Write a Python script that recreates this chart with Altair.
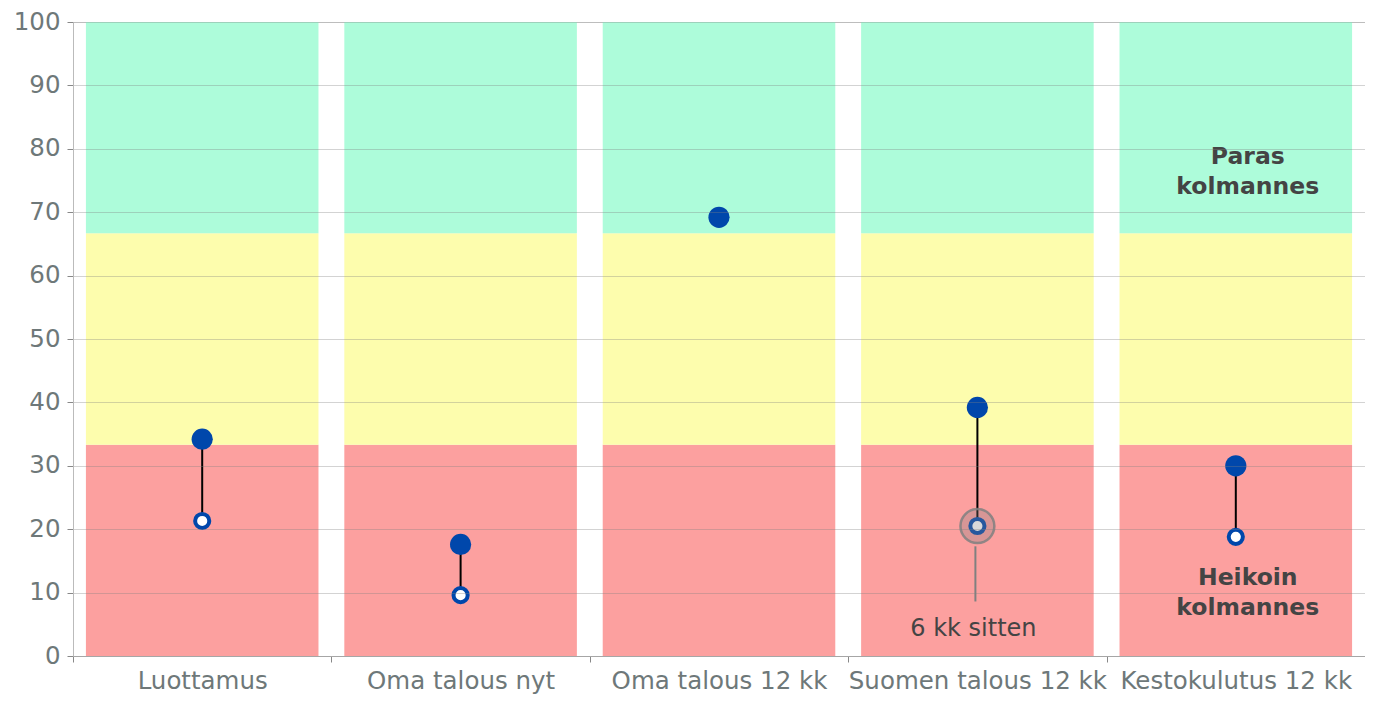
import altair as alt
import pandas as pd

categories = ["Luottamus", "Oma talous nyt", "Oma talous 12 kk", "Suomen talous 12 kk", "Kestokulutus 12 kk"]
current = [34.2, 17.6, 69.2, 39.2, 30.0]
previous = [21.3, 9.6, 69.2, 20.5, 18.8]

band_names = ["Heikoin", "Keski", "Paras"]
band_lo = [0, 33.33, 66.67]
band_hi = [33.33, 66.67, 100]
band_colors = ["#FCA09F", "#FDFDAD", "#ADFCDA"]

annot_cat = "Suomen talous 12 kk"
annot_value = 20.5
annot_line = [17.3, 8.6]
annot_text = "6 kk sitten"
annot_text_y = 4.3

label_cat = "Kestokulutus 12 kk"
label_lines = ["Paras", "kolmannes", "Heikoin", "kolmannes"]
label_y = [78.7, 74.0, 12.3, 7.5]

FONT = "DejaVu Sans"
BLUE = "#0047AB"
AXIS_GRAY = "#6e7879"

bands = pd.DataFrame([
    {"cat": c, "band": n, "lo": lo, "hi": hi}
    for c in categories
    for n, lo, hi in zip(band_names, band_lo, band_hi)
])
pts = pd.DataFrame({"cat": categories, "current": current, "previous": previous})
ann = pd.DataFrame({"cat": [annot_cat], "v": [annot_value], "l1": [annot_line[0]],
                    "l2": [annot_line[1]], "t": [annot_text], "ty": [annot_text_y]})
lbl = pd.DataFrame({"cat": [label_cat] * len(label_lines), "t": label_lines, "y": label_y})

x_enc = alt.X(
    "cat:N", sort=categories,
    scale=alt.Scale(paddingInner=0, paddingOuter=0),
    axis=alt.Axis(title=None, labelAngle=0, tickBand="extent", grid=False,
                  labelFontSize=24.5, labelColor=AXIS_GRAY, labelFont=FONT, labelLimit=0,
                  domainColor="#bbbbbb", tickColor="#888888", tickSize=6,
                  labelPadding=7),
)
y_scale = alt.Scale(domain=[0, 100], nice=False)
y_axis = alt.Axis(title=None, values=list(range(0, 101, 10)), labelFontSize=24.5,
                  labelColor=AXIS_GRAY, labelFont=FONT, domainColor="#bbbbbb",
                  tickColor="#888888", tickSize=6, labelPadding=7,
                  grid=True, gridColor="#808080", gridOpacity=0.35, zindex=1)

band_layer = alt.Chart(bands).mark_bar(width=alt.RelativeBandSize(0.9)).encode(
    x=x_enc,
    y=alt.Y("lo:Q", scale=y_scale, axis=y_axis),
    y2="hi:Q",
    fill=alt.Fill("band:N", scale=alt.Scale(domain=band_names, range=band_colors), legend=None),
)

rule_layer = alt.Chart(pts).mark_rule(color="black", strokeWidth=2).encode(
    x=x_enc, y=alt.Y("current:Q", scale=y_scale), y2="previous:Q")

prev_layer = alt.Chart(pts).mark_point(filled=False, fill="white", fillOpacity=1,
                                       stroke=BLUE, strokeWidth=4, size=200, opacity=1).encode(
    x=x_enc, y=alt.Y("previous:Q", scale=y_scale))

cur_layer = alt.Chart(pts).mark_circle(color=BLUE, size=450, opacity=1).encode(
    x=x_enc, y=alt.Y("current:Q", scale=y_scale))

ann_circle = alt.Chart(ann).mark_point(filled=False, fill="#808080", fillOpacity=0.3,
                                       stroke="#808080", strokeWidth=2.5, strokeOpacity=0.85,
                                       size=1150).encode(
    x=x_enc, y=alt.Y("v:Q", scale=y_scale))

ann_line = alt.Chart(ann).mark_rule(color="#808080", strokeWidth=2, xOffset=-2).encode(
    x=x_enc, y=alt.Y("l1:Q", scale=y_scale), y2="l2:Q")

ann_text = alt.Chart(ann).mark_text(font=FONT, fontSize=24, color="#444444", dx=-4,
                                    baseline="middle").encode(
    x=x_enc, y=alt.Y("ty:Q", scale=y_scale), text="t:N")

lbl_text = alt.Chart(lbl).mark_text(font=FONT, fontSize=23.5, fontWeight="bold", color="#444444",
                                    dx=12, baseline="middle").encode(
    x=x_enc, y=alt.Y("y:Q", scale=y_scale), text="t:N")

chart = alt.layer(
    band_layer, rule_layer, prev_layer, cur_layer, ann_circle, ann_line, ann_text, lbl_text
).properties(
    width=1292, height=634,
    autosize=alt.AutoSizeParams(type="none"),
    padding={"left": 65, "top": 14, "right": 0, "bottom": 42},
).configure_view(stroke=None).configure(font=FONT)

chart.save("out.html", embed_options={"renderer": "svg", "actions": False})
